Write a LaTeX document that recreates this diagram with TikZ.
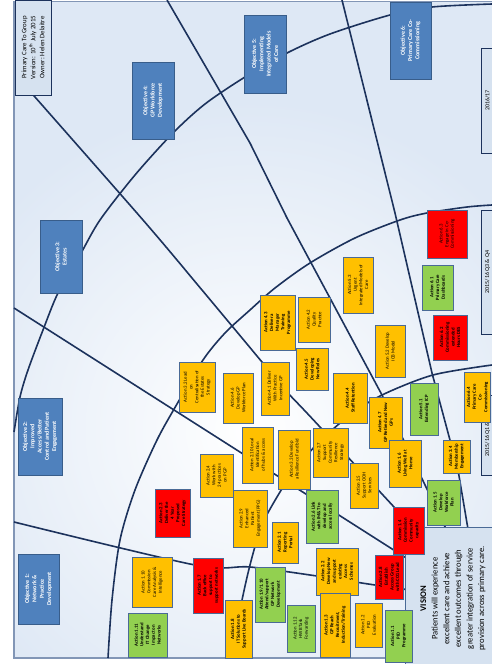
\documentclass[tikz,border=0pt]{standalone}
\usepackage{fontspec}
\setmainfont{Carlito}
\definecolor{pcBg}{RGB}{222,232,245}
\definecolor{pcObj}{RGB}{79,129,189}
\definecolor{pcObjEdge}{RGB}{56,93,138}
\definecolor{pcAmber}{RGB}{255,192,0}
\definecolor{pcGreen}{RGB}{146,208,80}
\definecolor{pcRed}{RGB}{255,0,0}
\definecolor{pcEdge}{RGB}{74,106,150}
\definecolor{pcLine}{RGB}{28,50,92}
\definecolor{pcPanel}{RGB}{214,226,240}
\definecolor{pcFrame}{RGB}{130,150,182}

\begin{document}
\begin{tikzpicture}[x=1pt, y=-1pt,
  bx/.style={draw=pcEdge, line width=0.8pt, rotate=90, align=center, inner sep=0.5pt, font=\fontsize{4.8}{5.7}\selectfont},
  hv/.style={font=\fontsize{4.8}{5.7}\selectfont\bfseries},
  amb/.style={bx, fill=pcAmber},
  grn/.style={bx, fill=pcGreen},
  rdb/.style={bx, fill=pcRed},
  obj/.style={bx, fill=pcObj, draw=pcObjEdge, text=white, font=\fontsize{6}{7.3}\selectfont\bfseries},
  per/.style={bx, fill=pcPanel, draw=pcLine, font=\fontsize{6}{7}\selectfont},
  sect/.style={draw=pcLine, line width=1.6pt, line join=round}
]
\useasboundingbox (0,0) rectangle (492,664);
\clip (0,0) rectangle (492,664);
% background and frame
\fill[white] (0,0) rectangle (492,664);
\begin{scope}
  \clip (14,1.5) rectangle (492,658);
  \fill[pcBg] (14,1.5) rectangle (492,658);
  \shade[inner color=white, outer color=pcBg] (250,430) circle[radius=330pt];
\end{scope}
\draw[pcFrame, line width=1.6pt] (492,1.5) -- (14,1.5) -- (14,658) -- (404,658);

% arcs
\draw[sect] plot[smooth] coordinates {(492,4) (432,7) (390,15) (330,34) (287,53) (245,77) (205,104) (173,133) (135,175) (100,220) (80,255) (58,293) (43,330) (28,370) (20,397) (14,432)};
\draw[sect] plot[smooth] coordinates {(492,205) (467,207) (427,213) (400,220) (355,238) (310,263) (275,288) (250,310) (225,333) (203,360) (177,404) (157,440) (135,490) (120,540) (112,600) (108,658)};
\draw[sect] plot[smooth] coordinates {(492,365) (433,375) (382,395) (350,415) (318,443) (295,470) (280,492) (262,525) (250,565) (240,610) (232,658)};

% sector lines
\draw[sect] plot[smooth] coordinates {(14,522) (195,565) (250,567) (317,576) (375,585) (480,600)};
\draw[sect] (14,308) -- (480,605);
\draw[sect] plot[smooth] coordinates {(20,80) (143,220) (202,290) (262,362) (288,393) (320,427) (480,600)};
\draw[sect] (167,0) -- (250,143) -- (287,218) -- (382,395) -- (480,600);
\draw[sect] (342,0) -- (395,213) -- (432,373) -- (458,470) -- (480,600);

% header, periods, vision
\node[bx, fill=pcPanel, draw=pcLine, minimum width=95pt, minimum height=36pt, font=\fontsize{6.8}{9}\selectfont] (info) at (33,47.5) {Primary Care To Group\\Version: 10\textsuperscript{th} July 2015\\Owner: Helen Delaitre};
\node[per, minimum width=105pt, minimum height=13pt] (p1) at (487.5,100.5) {2016/17};
\node[per, minimum width=124pt, minimum height=13pt] (p2) at (487.5,272) {2015/16 Q3 \& Q4};
\node[per, minimum width=80pt, minimum height=13pt] (p3) at (487.5,435) {2015/16 Q1 \& Q2};
\node[bx, fill=pcPanel, draw=pcEdge, minimum width=143pt, minimum height=96pt, font=\fontsize{8.6}{11.6}\selectfont] (vision) at (453,598.5) {\textbf{VISION}\\Patients will experience\\excellent care and achieve\\excellent outcomes through\\greater integration of service\\provision across primary care.};

% objectives
\node[obj, minimum width=70pt, minimum height=41pt] (o1) at (38.5,589) {Objective 1:\\Network \&\\Practice\\Development};
\node[obj, minimum width=77pt, minimum height=44pt] (o2) at (40,436.5) {Objective 2:\\Improved\\Access/Better\\Control and Patient\\Engagement};
\node[obj, minimum width=73pt, minimum height=42pt] (o3) at (61,256.5) {Objective 3:\\Estates};
\node[obj, minimum width=77pt, minimum height=42pt] (o4) at (153,100.5) {Objective 4:\\GP Workforce\\Development};
\node[obj, minimum width=78pt, minimum height=42pt] (o5) at (265,54) {Objective 5:\\Implementing\\Integrated Models\\of Care};
\node[obj, minimum width=77pt, minimum height=41pt] (o6) at (410.5,40.5) {Objective 6:\\Primary Care Co-\\Commissioning};

% objective 6 actions
\node[rdb, minimum width=48pt, minimum height=40pt] (a63) at (447,234) {Action 6.3\\Engage in Co-\\Commissioning};
\node[grn, hv, minimum width=45pt, minimum height=31pt] (a61) at (437.5,287.5) {Action 6.1\\Primary Care\\Dashboards};
\node[rdb, hv, minimum width=45pt, minimum height=34pt] (a62) at (450,337.5) {Action 6.2\\Commissioning\\extended\\Hours DES};
\node[amb, hv, minimum width=50pt, minimum height=26pt] (a64) at (477.5,397) {Action 6.4\\Primary Care\\Co-\\Commissioning};

% objective 5 actions
\node[amb, minimum width=56pt, minimum height=30pt] (a53) at (358,285) {Action 5.3\\Urgent\\Integrated Models of\\Care};
\node[amb, minimum width=52pt, minimum height=30pt] (a52) at (390,351) {Action 5.2 Develop\\ICB Model};
\node[grn, hv, minimum width=52pt, minimum height=28pt] (a51) at (424,409) {Action 5.1\\Extending ICP};

% objective 4 actions
\node[amb, hv, minimum width=55pt, minimum height=35pt] (a43) at (277.5,322.5) {Action 4.3\\Deliver a\\Manager\\Training\\Programme};
\node[amb, minimum width=45pt, minimum height=32pt] (a42) at (314,319.5) {Action 4.2\\Quality\\Practice};
\node[amb, hv, minimum width=42pt, minimum height=32pt] (a45) at (312,369) {Action 4.5\\Developing\\New Roles};
\node[amb, minimum width=53pt, minimum height=28pt] (a41) at (275,388.5) {Action 4.1 Deliver\\With Practice\\Incentive GP};
\node[amb, hv, minimum width=50pt, minimum height=34pt] (a44) at (350,398) {Action 4.4\\Staff Retention};
\node[amb, hv, minimum width=51pt, minimum height=33pt] (a47) at (385.5,422.5) {Action 4.7\\GP Retired and New\\GPs};
\node[amb, minimum width=50pt, minimum height=30pt] (a46) at (238,398) {Action 4.6\\Develop GP\\Workforce Plan};

% objective 3 actions
\node[amb, minimum width=50pt, minimum height=36pt] (a32) at (197,387) {Action 3.2 Lead\\on\\Centralisation of\\the Estates\\Strategy};
\node[amb, hv, minimum width=33pt, minimum height=27pt] (a34) at (456.5,456.5) {Action 3.4\\Membership\\Engagement};
\node[amb, minimum width=59pt, minimum height=32pt] (a33) at (294,459.5) {Action 3.3 Develop\\a Resilience Fund bid};

% objective 2 actions
\node[amb, minimum width=56pt, minimum height=31pt] (a210) at (257.5,455) {Action 2.10 Local\\Identification\\of hubs \& access};
\node[amb, minimum width=49pt, minimum height=35pt] (a27) at (330.5,452.5) {Action 2.7\\Support\\Community\\Resilience\\Strategy};
\node[amb, minimum width=45pt, minimum height=28pt] (a25) at (364,485.5) {Action 2.5\\Support OOH\\Services};
\node[amb, minimum width=57pt, minimum height=34pt] (a29) at (250,518.5) {Action 2.9\\Enhanced\\Patient\\Engagement (PPG)};
\node[grn, hv, minimum width=53pt, minimum height=32pt] (a26) at (322,516.5) {Action 2.6 Link\\with IM\&T to\\develop and\\access locally};
\node[amb, hv, minimum width=41pt, minimum height=26pt] (a21) at (285,542.5) {Action 2.1\\Reporting\\Portal};
\node[amb, hv, minimum width=47pt, minimum height=42pt] (a22) at (337,571.5) {Action 2.2\\Develop New\\and support\\existing\\Access\\Schemes};
\node[rdb, hv, minimum width=44pt, minimum height=28pt] (a28) at (389,577) {Action 2.8\\Establish\\Access Group\\with CCG Lead};
\node[rdb, hv, minimum width=48pt, minimum height=35pt] (a23) at (172.5,513) {Action 2.3\\Deliver the\\4 Year\\Proposed\\Care Strategy};
\node[amb, minimum width=43pt, minimum height=33pt] (a24) at (216.5,475.5) {Action 2.4\\Work with\\24 practices\\on PGP};

% objective 1 actions
\node[amb, hv, minimum width=47pt, minimum height=32pt] (a16) at (405,463.5) {Action 1.6\\Living Well at\\Home};
\node[grn, hv, minimum width=45pt, minimum height=33pt] (a15) at (443.5,502.5) {Action 1.5\\Develop\\Workforce\\Plan};
\node[rdb, hv, minimum width=47pt, minimum height=31pt] (a14) at (408.5,530.5) {Action 1.4\\Commission\\Community\\capacity};
\node[grn, hv, minimum width=55pt, minimum height=30pt] (a19) at (270,594.5) {Action 1.9/1.10\\Attend/support\\GP Network\\Development};
\node[amb, hv, minimum width=64pt, minimum height=30pt] (a13) at (335,625) {Action 1.3\\GP Reach\\Recruitment,\\Induction/Training};
\node[grn, minimum width=47pt, minimum height=28pt] (a112) at (301,628.5) {Action 1.12\\HWB Task\\Forwarding};
\node[amb, minimum width=44pt, minimum height=27pt] (a12) at (368.5,625) {Action 1.2\\PID\\Evaluation};
\node[grn, hv, minimum width=52pt, minimum height=27pt] (a11) at (398.5,636) {Action 1.1\\PID\\Programme};
\node[amb, hv, minimum width=58pt, minimum height=27pt] (a18) at (238.5,629) {Action 1.8\\IT Solutions to\\Support Live Boards};
\node[amb, minimum width=50pt, minimum height=40pt] (a110) at (152,582) {Action 1.10\\Commission\\Care Analysis \&\\Intelligence};
\node[grn, hv, minimum width=44pt, minimum height=39pt] (a111) at (147.5,635) {Action 1.11\\Understand\\IT Change\\Impact on\\Networks};
\node[rdb, hv, minimum width=55pt, minimum height=30pt] (a17) at (208,585.5) {Action 1.7\\Back office\\support to\\support networks};
\end{tikzpicture}
\end{document}
